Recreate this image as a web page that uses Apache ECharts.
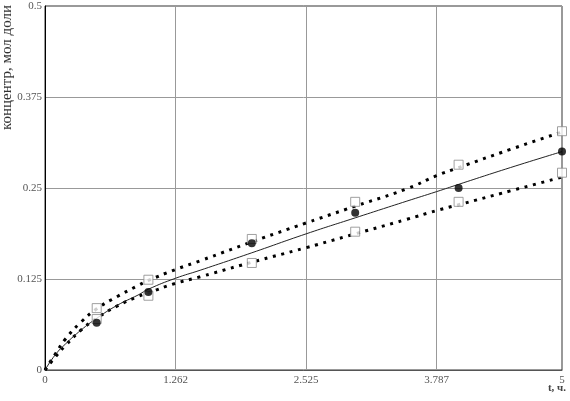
<!DOCTYPE html>
<html>
<head>
<meta charset="utf-8">
<script src="https://cdn.jsdelivr.net/npm/echarts@6/dist/echarts.min.js"></script>
<style>
  html, body { margin: 0; padding: 0; background: #fff; }
  #chart { width: 570px; height: 401px; }
</style>
</head>
<body>
<div id="chart"></div>
<script>
// подписи осей
var xTickLabels = ['0', '1.262', '2.525', '3.787', '5'];
var yTickLabels = ['0', '0.125', '0.25', '0.375', '0.5'];

// время для расчётных кривых, ч
var tModel = [0, 0.1, 0.2, 0.35, 0.5, 0.7, 0.9, 1.0, 1.262, 1.5, 2, 2.525, 3, 3.5, 3.787, 4, 4.5, 5];
// расчётная кривая (сплошная)
var cModel = [0, 0.021, 0.036, 0.055, 0.071, 0.089, 0.103, 0.111, 0.126, 0.137, 0.161, 0.187, 0.209, 0.232, 0.245, 0.255, 0.278, 0.300];
// верхняя и нижняя границы (пунктир)
var cUpper = [0, 0.022, 0.043, 0.066, 0.084, 0.101, 0.116, 0.123, 0.138, 0.150, 0.176, 0.202, 0.225, 0.249, 0.267, 0.278, 0.303, 0.327];
var cLower = [0, 0.018, 0.034, 0.055, 0.071, 0.088, 0.101, 0.106, 0.119, 0.128, 0.148, 0.168, 0.187, 0.207, 0.219, 0.227, 0.246, 0.265];

// эксперимент
var tExp = [0.5, 1, 2, 3, 4, 5];
var cExp = [0.065, 0.107, 0.174, 0.216, 0.250, 0.300];
var cExpUpper = [0.085, 0.124, 0.180, 0.231, 0.282, 0.328];
var cExpLower = [0.070, 0.102, 0.147, 0.190, 0.231, 0.271];

function pairs(xs, ys) {
  return xs.map(function (x, i) { return [x, ys[i]]; });
}

var chart = echarts.init(document.getElementById('chart'));

var labelFont = {
  color: '#555',
  fontFamily: 'Liberation Serif',
  fontSize: 11
};

var option = {
  animation: false,
  backgroundColor: '#fff',
  grid: {
    left: 45, right: 8, top: 6, bottom: 31,
    show: true,
    borderColor: '#333',
    borderWidth: 1
  },
  xAxis: {
    type: 'value',
    min: 0,
    max: 5,
    interval: 1.2625,
    axisLine: { lineStyle: { color: '#555' } },
    axisTick: { show: false },
    splitLine: { lineStyle: { color: '#999', width: 1 } },
    axisLabel: Object.assign({
      margin: 5,
      formatter: function (v) { return xTickLabels[Math.round(v / 1.2625)]; }
    }, labelFont)
  },
  yAxis: {
    type: 'value',
    min: 0,
    max: 0.5,
    interval: 0.125,
    axisLine: { show: true, lineStyle: { color: '#000' } },
    axisTick: { show: false },
    splitLine: { lineStyle: { color: '#999', width: 1 } },
    axisLabel: Object.assign({
      margin: 3,
      formatter: function (v) { return yTickLabels[Math.round(v / 0.125)]; }
    }, labelFont)
  },
  graphic: [
    {
      type: 'text',
      left: 0,
      top: 5,
      rotation: Math.PI / 2,
      style: {
        text: 'концентр, мол доли',
        font: '15px "Liberation Serif"',
        fill: '#333'
      }
    },
    {
      type: 'text',
      right: 4,
      top: 383,
      style: {
        text: 't, ч.',
        font: 'bold 11px "Liberation Serif"',
        fill: '#444'
      }
    }
  ],
  series: [
    {
      name: 'верх',
      type: 'line',
      data: pairs(tModel, cUpper),
      smooth: true,
      showSymbol: false,
      lineStyle: { color: '#000', width: 3, type: [3, 5.7], cap: 'butt' },
      z: 2
    },
    {
      name: 'низ',
      type: 'line',
      data: pairs(tModel, cLower),
      smooth: true,
      showSymbol: false,
      lineStyle: { color: '#000', width: 3, type: [3, 5.7], cap: 'butt' },
      z: 2
    },
    {
      name: 'расчёт',
      type: 'line',
      data: pairs(tModel, cModel),
      smooth: true,
      showSymbol: false,
      lineStyle: { color: '#222', width: 1 },
      z: 3
    },
    {
      name: 'эксп. верх',
      type: 'scatter',
      data: pairs(tExp, cExpUpper),
      symbol: 'rect',
      symbolSize: 9,
      itemStyle: { color: '#fff', borderColor: '#888', borderWidth: 1 },
      z: 4
    },
    {
      name: 'эксп. низ',
      type: 'scatter',
      data: pairs(tExp, cExpLower),
      symbol: 'rect',
      symbolSize: 9,
      itemStyle: { color: '#fff', borderColor: '#888', borderWidth: 1 },
      z: 4
    },
    {
      name: 'эксп.',
      type: 'scatter',
      data: pairs(tExp, cExp),
      symbol: 'circle',
      symbolSize: 8,
      itemStyle: { color: '#000' },
      z: 5
    }
  ]
};

chart.setOption(option);
</script>
</body>
</html>
